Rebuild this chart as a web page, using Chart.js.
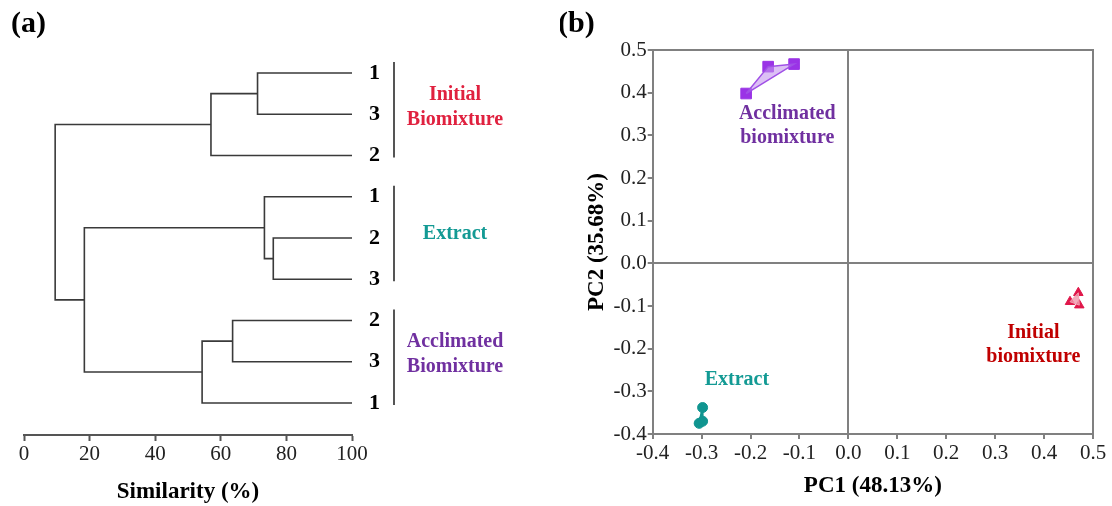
<!DOCTYPE html>
<html>
<head>
<meta charset="utf-8">
<title>Dendrogram and PCA</title>
<script src="https://cdn.jsdelivr.net/npm/chart.js@4.4.0/dist/chart.umd.min.js"></script>
<style>
    body { margin: 0; background: #fff; }
    #wrap { position: relative; width: 1112px; height: 506px; }
    canvas { position: absolute; top: 0; }
    #dendro { left: 0; }
    #pca { left: 560px; }
</style>
</head>
<body>
<div id="wrap">
    <canvas id="dendro" width="560" height="506"></canvas>
    <canvas id="pca" width="552" height="506"></canvas>
</div>
<script>
// (a) dendrogram: leaves top to bottom, merges like a scipy linkage
// nodes 0-8 are the leaves, node 9 is the first merge, and so on
const leafLabels = ["1", "3", "2", "1", "2", "3", "2", "3", "1"];
const mergeLeft = [0, 9, 4, 3, 6, 13, 12, 10];
const mergeRight = [1, 2, 5, 11, 7, 8, 14, 15];
const mergeHeight = [71.2, 57.0, 76.0, 73.3, 63.6, 54.3, 18.4, 9.5];
const similarityTicks = [0, 20, 40, 60, 80, 100];

const groupNames = [["Initial", "Biomixture"], ["Extract"], ["Acclimated", "Biomixture"]];
const groupFirstLeaf = [0, 3, 6];
const groupLastLeaf = [2, 5, 8];

// (b) PCA scores
const acclimatedPC1 = [-0.209, -0.164, -0.111];
const acclimatedPC2 = [0.398, 0.461, 0.467];
const extractPC1 = [-0.298, -0.305, -0.298];
const extractPC2 = [-0.338, -0.375, -0.370];
const initialPC1 = [0.470, 0.453, 0.472];
const initialPC2 = [-0.069, -0.090, -0.098];

const SERIF = "'Liberation Serif', 'Times New Roman', serif";
const RED = "#e0213f";
const TEAL = "#139a94";
const PURPLE = "#7030a0";

Chart.defaults.font.family = SERIF;
Chart.defaults.color = "#222";

// ---------- dendrogram ----------
let nodeX = leafLabels.map(() => 100);
let nodeY = leafLabels.map((_, i) => i);
let dendroSets = [];
mergeHeight.forEach((h, k) => {
    let a = mergeLeft[k];
    let b = mergeRight[k];
    dendroSets.push({
        data: [
            { x: nodeX[a], y: nodeY[a] },
            { x: h, y: nodeY[a] },
            { x: h, y: nodeY[b] },
            { x: nodeX[b], y: nodeY[b] },
        ],
        showLine: true,
        borderColor: "#3a3a3a",
        borderWidth: 1.6,
        pointRadius: 0,
        tension: 0,
    });
    nodeX.push(h);
    nodeY.push((nodeY[a] + nodeY[b]) / 2);
});

const groupColors = [RED, TEAL, PURPLE];

const dendroExtras = {
    id: "dendroExtras",
    afterDraw(chart) {
        const ctx = chart.ctx;
        const ys = chart.scales.y;
        const right = chart.chartArea.right;
        ctx.save();
        // panel letter
        ctx.fillStyle = "#000";
        ctx.font = "bold 30px " + SERIF;
        ctx.textBaseline = "middle";
        ctx.textAlign = "left";
        ctx.fillText("(a)", 11, 24);

        groupNames.forEach((lines, g) => {
            let y0 = ys.getPixelForValue(groupFirstLeaf[g]);
            let y1 = ys.getPixelForValue(groupLastLeaf[g]);
            ctx.strokeStyle = "#555";
            ctx.lineWidth = 2;
            ctx.beginPath();
            ctx.moveTo(right + 42, y0 - 11);
            ctx.lineTo(right + 42, y1 + 2);
            ctx.stroke();

            let mid = (y0 + y1) / 2 - (lines.length > 1 ? 7 : 4);
            ctx.fillStyle = groupColors[g];
            ctx.font = "bold 20px " + SERIF;
            ctx.textAlign = "center";
            lines.forEach((t, i) => {
                ctx.fillText(t, right + 103, mid + (i - (lines.length - 1) / 2) * 25);
            });
        });
        ctx.restore();
    },
};

new Chart(document.getElementById("dendro"), {
    type: "scatter",
    data: { datasets: dendroSets },
    options: {
        responsive: false,
        animation: false,
        devicePixelRatio: 1,
        layout: { padding: { left: 24, top: 41, right: 0, bottom: 0 } },
        plugins: { legend: { display: false }, tooltip: { enabled: false } },
        scales: {
            x: {
                type: "linear",
                min: 0,
                max: 100,
                afterBuildTicks: (s) => { s.ticks = similarityTicks.map((v) => ({ value: v })); },
                ticks: { font: { size: 21 }, color: "#222", padding: 1 },
                grid: { drawOnChartArea: false, tickLength: 6, tickColor: "#555", tickWidth: 2 },
                border: { color: "#555", width: 2 },
                title: {
                    display: true,
                    text: "Similarity (%)",
                    color: "#000",
                    font: { size: 23, weight: "bold" },
                    padding: { top: 0, bottom: 0 },
                },
                afterFit: (s) => { s.height = 71; },
            },
            y: {
                type: "linear",
                position: "right",
                reverse: true,
                min: -0.776,
                max: 8.776,
                afterBuildTicks: (s) => { s.ticks = leafLabels.map((_, i) => ({ value: i })); },
                ticks: {
                    callback: (v) => leafLabels[v],
                    font: { size: 22, weight: "bold" },
                    color: "#000",
                    padding: 9,
                    autoSkip: false,
                },
                grid: { display: false },
                border: { display: false },
                afterFit: (s) => { s.width = 208; },
            },
        },
    },
    plugins: [dendroExtras],
});

// ---------- PCA ----------
function pts(xs, ys) {
    return xs.map((x, i) => ({ x: x, y: ys[i] }));
}
function closed(xs, ys) {
    let p = pts(xs, ys);
    p.push(p[0]);
    return p;
}

const pcaLabels = [
    { lines: ["Acclimated", "biomixture"], x: -0.125, y: 0.322, color: PURPLE },
    { lines: ["Extract"], x: -0.228, y: -0.273, color: TEAL },
    { lines: ["Initial", "biomixture"], x: 0.378, y: -0.19, color: "#c00000" },
];

const pcaExtras = {
    id: "pcaExtras",
    afterDraw(chart) {
        const ctx = chart.ctx;
        const a = chart.chartArea;
        const xs = chart.scales.x;
        const ys = chart.scales.y;
        ctx.save();
        ctx.strokeStyle = "#808080";
        ctx.lineWidth = 2;
        ctx.beginPath();
        ctx.moveTo(a.left, a.top);
        ctx.lineTo(a.right, a.top);
        ctx.lineTo(a.right, a.bottom);
        ctx.stroke();

        ctx.textBaseline = "middle";
        ctx.textAlign = "center";
        ctx.font = "bold 20px " + SERIF;
        pcaLabels.forEach((lab) => {
            ctx.fillStyle = lab.color;
            let cx = xs.getPixelForValue(lab.x);
            let cy = ys.getPixelForValue(lab.y);
            lab.lines.forEach((t, i) => {
                ctx.fillText(t, cx, cy + (i - (lab.lines.length - 1) / 2) * 24);
            });
        });

        ctx.fillStyle = "#000";
        ctx.font = "bold 30px " + SERIF;
        ctx.textAlign = "left";
        ctx.fillText("(b)", -2, 24);
        ctx.restore();
    },
};

const isZero = (v) => Math.abs(v) < 1e-9;
const fmt = (v) => (isZero(v) ? "0.0" : v.toFixed(1));

new Chart(document.getElementById("pca"), {
    type: "scatter",
    data: {
        datasets: [
            {
                data: closed(acclimatedPC1, acclimatedPC2),
                showLine: true,
                fill: "shape",
                backgroundColor: "rgba(196, 150, 238, 0.6)",
                borderColor: "#a050e6",
                borderWidth: 1.5,
                pointRadius: 0,
            },
            {
                data: pts(acclimatedPC1, acclimatedPC2),
                pointStyle: "rect",
                pointRadius: 7.5,
                backgroundColor: "#9a33e6",
                borderColor: "#9a33e6",
            },
            {
                data: closed(extractPC1, extractPC2),
                showLine: true,
                fill: "shape",
                backgroundColor: "rgba(19, 154, 148, 0.4)",
                borderColor: "#109590",
                borderWidth: 2,
                pointRadius: 0,
            },
            {
                data: pts(extractPC1, extractPC2),
                pointStyle: "circle",
                pointRadius: 5,
                backgroundColor: "#109590",
                borderColor: "#109590",
            },
            {
                data: closed(initialPC1, initialPC2),
                showLine: true,
                fill: "shape",
                backgroundColor: "rgba(240, 150, 170, 0.8)",
                borderColor: "#f0a0b0",
                borderWidth: 1,
                pointRadius: 0,
            },
            {
                data: pts(initialPC1, initialPC2),
                pointStyle: "triangle",
                pointRadius: 5.5,
                backgroundColor: "#e0174a",
                borderColor: "#e0174a",
            },
        ],
    },
    options: {
        responsive: false,
        animation: false,
        devicePixelRatio: 1,
        layout: { padding: { left: 0, top: 50, right: 19, bottom: 0 } },
        plugins: { legend: { display: false }, tooltip: { enabled: false } },
        scales: {
            x: {
                type: "linear",
                min: -0.4,
                max: 0.5,
                ticks: { stepSize: 0.1, callback: fmt, font: { size: 21 }, color: "#222", padding: 2 },
                grid: {
                    color: (c) => (isZero(c.tick.value) ? "#808080" : "transparent"),
                    lineWidth: 2,
                    tickColor: "#808080",
                    tickLength: 5,
                    tickWidth: 2,
                },
                border: { color: "#808080", width: 2 },
                title: {
                    display: true,
                    text: "PC1 (48.13%)",
                    color: "#000",
                    font: { size: 23, weight: "bold" },
                    padding: { top: 0, bottom: 6 },
                },
                afterFit: (s) => { s.height = 72; },
            },
            y: {
                type: "linear",
                min: -0.4,
                max: 0.5,
                ticks: { stepSize: 0.1, callback: fmt, font: { size: 21 }, color: "#222", padding: 1 },
                grid: {
                    color: (c) => (isZero(c.tick.value) ? "#808080" : "transparent"),
                    lineWidth: 2,
                    tickColor: "#808080",
                    tickLength: 5,
                    tickWidth: 2,
                },
                border: { color: "#808080", width: 2 },
                title: {
                    display: true,
                    text: "PC2 (35.68%)",
                    color: "#000",
                    font: { size: 23, weight: "bold" },
                    padding: { top: 23, bottom: 0 },
                },
                afterFit: (s) => { s.width = 92.7; },
            },
        },
    },
    plugins: [pcaExtras],
});
</script>
</body>
</html>
